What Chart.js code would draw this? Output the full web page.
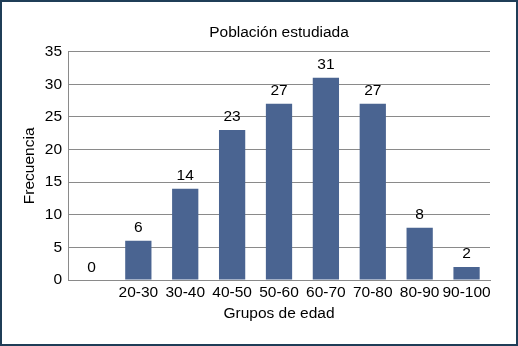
<!DOCTYPE html>
<html>
<head>
<meta charset="utf-8">
<script src="https://cdn.jsdelivr.net/npm/chart.js@4"></script>
<style>
  html, body { margin: 0; padding: 0; background: #fff; }
  .marco {
    width: 518px; height: 346px; box-sizing: border-box;
    border: 2px solid #1f3d57; position: relative;
  }
  canvas { display: block; }
</style>
</head>
<body>
<div class="marco"><canvas id="grafico" width="514" height="342"></canvas></div>
<script>
// datos
const grupos = ['', '20-30', '30-40', '40-50', '50-60', '60-70', '70-80', '80-90', '90-100'];
const frecuencias = [0, 6, 14, 23, 27, 31, 27, 8, 2];
const ticksY = [0, 5, 10, 15, 20, 25, 30, 35];

const fuente = "'Liberation Sans', Arial, sans-serif";
const tam = 15.5;

// etiquetas de valor encima de cada barra
const etiquetas = {
    id: 'etiquetas',
    afterDatasetsDraw(chart) {
        const c = chart.ctx;
        const meta = chart.getDatasetMeta(0);
        c.save();
        c.font = tam + 'px ' + fuente;
        c.fillStyle = '#000';
        c.textAlign = 'center';
        c.textBaseline = 'bottom';
        meta.data.forEach((bar, i) => {
            c.fillText(String(frecuencias[i]), bar.x, bar.y - 5);
        });
        c.restore();
    }
};

const ctx = document.getElementById('grafico').getContext('2d');
const grafico = new Chart(ctx, {
    type: 'bar',
    data: {
        labels: grupos,
        datasets: [{
            label: 'Frecuencia',
            data: frecuencias,
            backgroundColor: '#4a6491',
            categoryPercentage: 1,
            barPercentage: 0.56
        }]
    },
    options: {
        responsive: false,
        animation: false,
        layout: { padding: { left: 18, right: 26, top: 0, bottom: 21 } },
        plugins: {
            legend: { display: false },
            tooltip: { enabled: false },
            title: {
                display: true,
                fullSize: false,
                text: 'Población estudiada',
                color: '#000',
                font: { family: fuente, size: tam, weight: 'normal' },
                padding: { top: 21, bottom: 10 }
            }
        },
        scales: {
            x: {
                grid: { display: false, drawTicks: false },
                border: { display: true, color: '#8a8a8a', width: 1 },
                ticks: { color: '#000', font: { family: fuente, size: tam }, padding: 3, maxRotation: 0, autoSkip: false },
                title: {
                    display: true, text: 'Grupos de edad', color: '#000',
                    font: { family: fuente, size: tam }, padding: { top: 0, bottom: 0 }
                },
                afterFit(scale) { scale.height = 43; }
            },
            y: {
                min: 0,
                max: 35,
                afterBuildTicks(scale) { scale.ticks = ticksY.map(v => ({ value: v })); },
                grid: { color: '#8a8a8a', drawTicks: false },
                border: { display: true, color: '#8a8a8a', width: 1 },
                ticks: { color: '#000', font: { family: fuente, size: tam }, padding: 6 },
                title: {
                    display: true, text: 'Frecuencia', color: '#000',
                    font: { family: fuente, size: tam }, padding: { top: 0, bottom: 0 }
                },
                afterFit(scale) { scale.width = 48; }
            }
        }
    },
    plugins: [etiquetas]
});
</script>
</body>
</html>
